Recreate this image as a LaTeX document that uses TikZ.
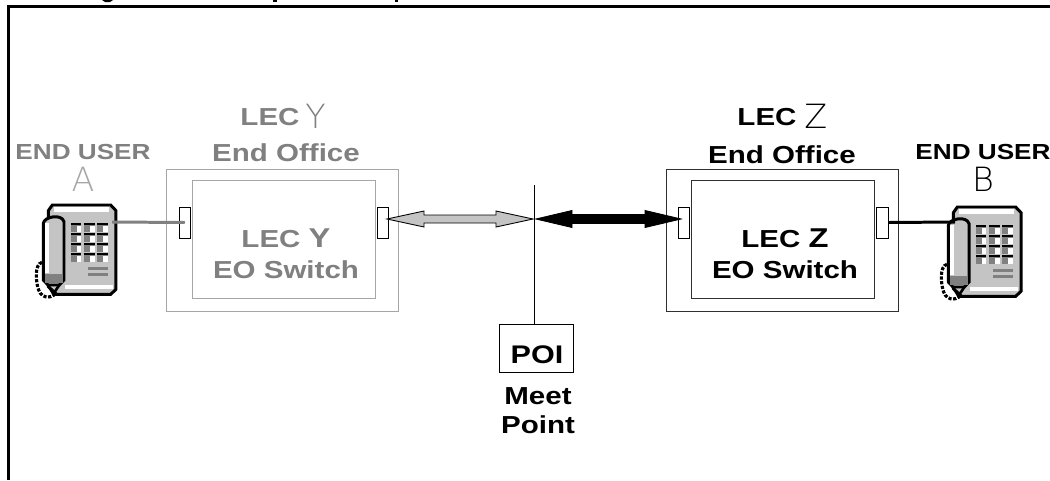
\documentclass[tikz,border=0pt]{standalone}
\usepackage{fontspec}
\usepackage{tikz}
\usetikzlibrary{calc}
\setmainfont{Liberation Sans}
\newfontfamily\widefont[FakeStretch=1.2]{Liberation Sans Bold}
\newfontfamily\thinfont{DejaVu Sans ExtraLight}
\definecolor{mgray}{HTML}{808080}
\definecolor{lgray}{HTML}{A6A6A6}
\definecolor{fgray}{HTML}{C4C4C4}
\definecolor{dgray}{HTML}{303030}
\tikzset{office/.style = {draw = #1, line width = 0.45pt, inner sep = 0, minimum width = 4.64cm, minimum height = 2.84cm},
         switch/.style = {draw = #1, line width = 0.45pt, inner sep = 0, minimum width = 3.66cm, minimum height = 2.36cm},
         port/.style = {draw = black, fill = white, line width = 0.4pt, inner sep = 0, minimum width = 0.23cm, minimum height = 0.62cm},
         label/.style = {inner sep = 0, align = center, text = #1, font = \widefont\fontsize{14}{16}\selectfont},
         user/.style = {inner sep = 0, text = #1, font = \widefont\fontsize{12.4}{14}\selectfont},
         thin/.style = {inner sep = 0, text = #1, font = \thinfont\fontsize{19}{20}\selectfont},
         big arrow/.style = {draw = black, line width = 0.5pt, fill = #1}}
\newcommand{\telephone}[2]{
  \begin{scope}[shift={(#1, #2)}, scale=0.3333]
    % cord
    \draw [line width = 1.8pt, dash pattern = on 1.8pt off 0.9pt] (66, 217) .. controls (42, 222) and (48, 280) .. (56, 300) .. controls (66, 328) and (100, 330) .. (118, 296);
    % body
    \filldraw [fill = fgray, line width = 1.7pt] (97, 45) -- (272, 45) -- (288, 62) -- (288, 298) -- (272, 313) -- (110, 313) -- (85, 290) -- (85, 62) -- cycle;
    \fill [white] (102, 52) rectangle (268, 66);
    \fill [white] (135, 285) rectangle (280, 298);
    % handset
    \filldraw [fill = fgray, line width = 1.7pt] (70, 100) .. controls (72, 80) and (125, 70) .. (132, 95) -- (132, 270) -- (118, 285) -- (84, 285) -- (70, 270) -- cycle;
    \fill [white] (76, 100) rectangle (88, 250);
    \fill [mgray] (74, 252) rectangle (129, 280);
    \draw [line width = 1.5pt] (84, 285) -- (100, 312) -- (118, 285);
    % keypad
    \foreach \keyx in {152, 192, 232}
      \foreach \keyy in {98, 128, 158, 188} {
        \fill [mgray] (\keyx, \keyy) rectangle ++(32, 28);
        \fill [white] (\keyx + 18, \keyy + 9) rectangle ++(14, 19);
        \fill [black] (\keyx, \keyy) rectangle ++(32, 8);
      }
    \fill [mgray] (205, 232) rectangle (265, 240);
    \fill [mgray] (205, 250) rectangle (265, 258);
  \end{scope}
}

\begin{document}
\begin{tikzpicture}[x=0.02cm, y=-0.02cm]
    \useasboundingbox (0, 0) rectangle (1050, 480);

    % frame and the ends of the cut-off line above it
    \draw [line width = 1.7pt] (8.5, 480) -- (8.5, 6.5) -- (1050, 6.5);
    \fill (102, 0) -- (113, 0) -- (110, 2) -- (105, 2) -- cycle;
    \fill (273, 0) rectangle (277, 1.5);
    \fill (395, 0) rectangle (398, 1.5);

    % phones
    \telephone{20}{190}
    \telephone{925}{192}
    \coordinate (phoneA) at (112, 222);
    \coordinate (phoneB) at (955, 222);

    % LEC Y
    \node [office = lgray] (officeY) at (282, 240) {};
    \node [switch = lgray] (switchY) at (283.5, 239) {};
    \node [port] (portYl) at (184.75, 222.5) {};
    \node [port] (portYr) at (382.75, 222.5) {};
    \node [label = mgray] (titleY) at (270, 117) {LEC};
    \node [thin = mgray, right = 0pt] (letterY) at (305, 116) {Y};
    \node [label = mgray] (endY) at (286, 153) {End Office};
    \node [label = mgray] (nameY) at (286, 238) {LEC {\fontsize{15.5}{16}\selectfont Y}};
    \node [label = mgray] (eoY) at (286, 270) {EO Switch};

    % LEC Z
    \node [office = dgray] (officeZ) at (782, 240) {};
    \node [switch = dgray] (switchZ) at (783, 239) {};
    \node [port] (portZl) at (684, 222.5) {};
    \node [port] (portZr) at (882.5, 222.5) {};
    \node [label = black] (titleZ) at (767, 117) {LEC};
    \node [thin = black, right = 0pt] (letterZ) at (804, 116) {Z};
    \node [label = black] (endZ) at (782, 155) {End Office};
    \node [label = black] (nameZ) at (785, 238) {LEC {\fontsize{15.5}{16}\selectfont Z}};
    \node [label = black] (eoZ) at (785, 270) {EO Switch};

    % end users
    \node [user = mgray] (userA) at (83, 152) {END USER};
    \node [thin = lgray] (letterA) at (83, 179) {A};
    \node [user = black] (userB) at (983, 152) {END USER};
    \node [thin = black] (letterB) at (983, 179) {B};

    \draw [mgray, line width = 1.7pt] (phoneA) -- (portYl.center);
    \draw [black, line width = 1.7pt] (portZr.east) -- (phoneB);

    % meet point
    \node [draw = black, line width = 0.5pt, inner sep = 0, minimum width = 1.48cm, minimum height = 0.96cm] (poi) at (536, 348) {};
    \node [label = black, font = \widefont\fontsize{14.5}{16}\selectfont] (poiText) at (537, 355) {POI};
    \node [label = black] (meet) at (538, 396) {Meet};
    \node [label = black] (point) at (538, 425) {Point};
    \coordinate (meetTop) at (534, 185);
    \draw [line width = 0.5pt] (meetTop) -- (meetTop |- poi.north);

    % arrows
    \coordinate (grayL) at (387, 219);
    \coordinate (grayR) at (533, 219);
    \coordinate (blackL) at (536, 219);
    \coordinate (blackR) at (681, 219);
    \draw [big arrow = fgray] (grayL) -- ++(37, -8) -- ++(0, 4) -- ($(grayR) + (-37, -4)$) -- ++(0, -4) -- (grayR) -- ++(-37, 8) -- ++(0, -4) -- ($(grayL) + (37, 4)$) -- ++(0, 4) -- cycle;
    \draw [big arrow = black] (blackL) -- ++(36, -8.5) -- ++(0, 4) -- ($(blackR) + (-36, -4.5)$) -- ++(0, -4) -- (blackR) -- ++(-36, 8.5) -- ++(0, -4) -- ($(blackL) + (36, 4.5)$) -- ++(0, 4) -- cycle;
  \end{tikzpicture}
\end{document}
